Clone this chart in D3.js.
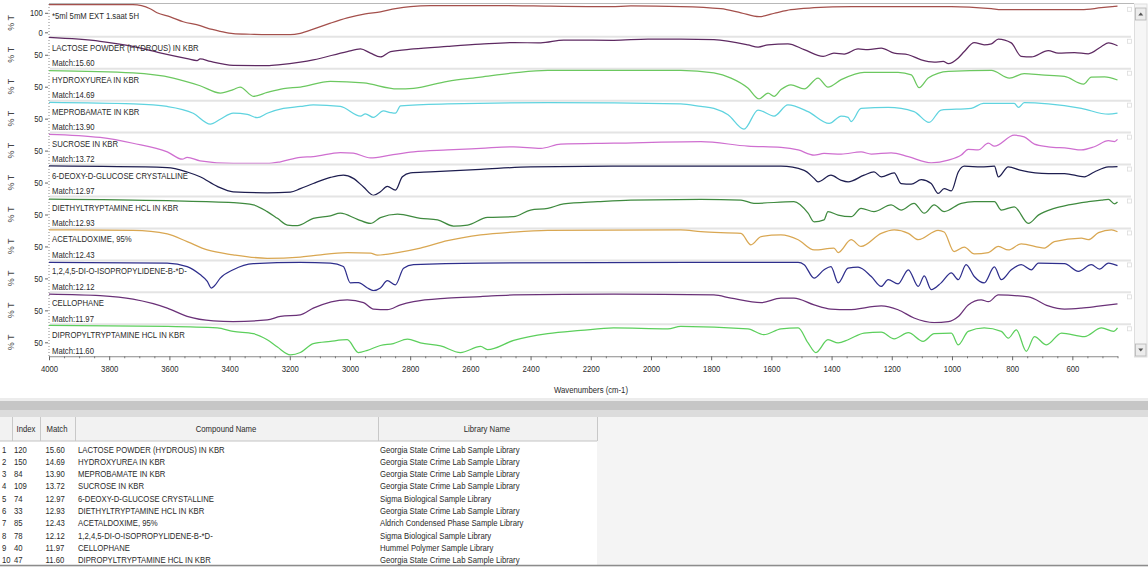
<!DOCTYPE html>
<html><head><meta charset="utf-8">
<script src="https://cdn.jsdelivr.net/npm/d3@7"></script>
<style>
html,body{margin:0;padding:0;background:#fff;overflow:hidden;}
svg{display:block;font-family:"Liberation Sans",Arial,sans-serif;}
</style></head><body>
<svg id="chart" width="1148" height="567"></svg>
<script>
// ---- search result data ----
const queryTitle = "*5ml 5mM EXT 1.saat 5H";
const compoundNames = [
  "LACTOSE POWDER (HYDROUS) IN KBR",
  "HYDROXYUREA IN KBR",
  "MEPROBAMATE IN KBR",
  "SUCROSE IN KBR",
  "6-DEOXY-D-GLUCOSE CRYSTALLINE",
  "DIETHYLTRYPTAMINE HCL IN KBR",
  "ACETALDOXIME, 95%",
  "1,2,4,5-DI-O-ISOPROPYLIDENE-B-*D-",
  "CELLOPHANE",
  "DIPROPYLTRYPTAMINE HCL IN KBR"
];
const matchScores = [15.60, 14.69, 13.90, 13.72, 12.97, 12.93, 12.43, 12.12, 11.97, 11.60];
const libraryIndex = [120, 150, 84, 109, 74, 33, 85, 78, 40, 47];
const libraryNames = [
  "Georgia State Crime Lab Sample Library",
  "Georgia State Crime Lab Sample Library",
  "Georgia State Crime Lab Sample Library",
  "Georgia State Crime Lab Sample Library",
  "Sigma Biological Sample Library",
  "Georgia State Crime Lab Sample Library",
  "Aldrich Condensed Phase Sample Library",
  "Sigma Biological Sample Library",
  "Hummel Polymer Sample Library",
  "Georgia State Crime Lab Sample Library"
];
const tableHeaders = ["Index", "Match", "Compound Name", "Library Name"];
const xTickValues = [4000, 3800, 3600, 3400, 3200, 3000, 2800, 2600, 2400, 2200, 2000, 1800, 1600, 1400, 1200, 1000, 800, 600];
const xAxisTitle = "Wavenumbers (cm-1)";
const yAxisTitle = "% T";

// spectra: [wavenumber cm-1, %T]
const querySpectrum = [[4000,142],[3721,142],[3664,121],[3641,100],[3597,79],[3554,54],[3498,34],[3474,21],[3431,5],[3388,-7],[3331,-10],[3275,-12],[3198,-12],[3165,-5],[3122,16],[3065,47],[3009,74],[2949,95],[2899,105],[2849,121],[2799,132],[2733,137],[2500,137],[2390,135],[2210,132],[2133,132],[2067,135],[1901,132],[1768,121],[1701,100],[1641,80],[1585,100],[1535,116],[1458,126],[1335,132],[1002,132],[869,121],[836,116],[703,116],[570,116],[504,126],[450,134]];
const specLactose = [[4000,104],[3830,92],[3721,76],[3631,56],[3541,38],[3508,32],[3498,37],[3464,29],[3388,17],[3275,16],[3231,19],[3165,27],[3122,34],[3009,60],[2965,68],[2932,55],[2899,43],[2865,60],[2789,68],[2676,76],[2566,83],[2456,88],[2366,87],[2290,96],[2124,95],[2010,99],[1901,99],[1791,97],[1678,81],[1644,74],[1611,81],[1545,84],[1491,66],[1428,45],[1392,55],[1358,52],[1312,68],[1279,66],[1235,71],[1192,55],[1145,50],[1102,34],[1059,27],[1029,29],[1012,22],[979,40],[959,60],[926,88],[893,81],[869,84],[846,99],[803,87],[770,45],[736,43],[680,63],[647,55],[593,57],[547,53],[503,76],[480,87],[450,78]];
const specHydroxyurea = [[4000,100],[3721,93],[3587,77],[3498,53],[3431,30],[3388,41],[3365,49],[3321,20],[3275,32],[3221,44],[3165,49],[3065,67],[2955,62],[2842,43],[2789,45],[2676,67],[2566,80],[2456,93],[2343,101],[1901,101],[1791,93],[1734,77],[1678,46],[1641,12],[1611,30],[1591,20],[1568,41],[1535,56],[1491,43],[1445,77],[1412,49],[1368,72],[1292,95],[1179,95],[1135,87],[1109,47],[1079,77],[1012,98],[869,101],[809,77],[760,91],[703,87],[626,82],[563,58],[537,80],[493,81],[450,71]];
const specMeprobamate = [[4000,101],[3721,96],[3607,88],[3521,67],[3464,33],[3431,48],[3388,67],[3341,63],[3308,53],[3275,67],[3221,82],[3165,88],[3122,93],[3032,88],[2965,58],[2949,65],[2922,54],[2889,74],[2866,69],[2849,67],[2832,90],[2676,96],[2343,100],[1901,96],[1834,88],[1791,82],[1744,62],[1691,17],[1644,77],[1591,58],[1545,93],[1478,72],[1408,35],[1368,58],[1345,54],[1335,41],[1302,82],[1212,85],[1126,72],[1076,38],[1036,77],[936,82],[896,98],[793,98],[779,85],[760,100],[680,96],[570,82],[480,64],[450,67]];
const specSucrose = [[4000,101],[3830,91],[3721,73],[3607,46],[3557,23],[3541,29],[3498,18],[3388,10],[3275,10],[3231,15],[3165,29],[3122,31],[3032,44],[2989,42],[2932,27],[2866,36],[2789,46],[2676,52],[2566,57],[2456,62],[2366,57],[2300,70],[2124,73],[1834,78],[1678,64],[1568,60],[1511,52],[1458,36],[1425,41],[1368,39],[1302,46],[1268,39],[1202,43],[1145,31],[1069,12],[1012,20],[969,36],[946,54],[913,52],[879,73],[859,64],[793,98],[760,93],[726,70],[680,62],[613,57],[570,52],[527,62],[480,81],[460,78],[450,85]];
const specDeoxyGlucose = [[4000,102],[3607,97],[3541,83],[3498,68],[3441,38],[3388,21],[3275,18],[3198,20],[3165,31],[3122,47],[3065,66],[3022,73],[2989,63],[2955,36],[2922,10],[2899,21],[2876,38],[2849,26],[2826,68],[2799,80],[2733,83],[2566,91],[2400,99],[2124,101],[1568,101],[1491,88],[1458,63],[1445,52],[1402,73],[1368,57],[1345,52],[1292,73],[1259,83],[1235,68],[1192,80],[1169,47],[1135,45],[1102,59],[1069,47],[1046,16],[1026,31],[1002,24],[979,83],[959,101],[903,99],[859,101],[846,68],[813,99],[770,88],[680,78],[626,78],[560,68],[527,83],[480,99],[450,100]];
const specDiethyltryptamine = [[4000,98],[3607,93],[3388,87],[3321,80],[3275,59],[3241,38],[3208,17],[3175,15],[3122,38],[3065,46],[3032,54],[2975,35],[2932,22],[2899,40],[2842,51],[2766,38],[2709,33],[2656,14],[2609,17],[2543,41],[2456,43],[2400,64],[2343,69],[2290,83],[2177,90],[2067,95],[1834,97],[1701,95],[1658,85],[1525,90],[1478,54],[1458,27],[1425,33],[1412,59],[1378,48],[1335,43],[1302,69],[1259,59],[1202,80],[1169,64],[1126,85],[1092,54],[1059,80],[1026,59],[969,85],[926,90],[859,90],[836,64],[793,74],[746,22],[713,48],[660,69],[613,80],[547,90],[503,95],[480,97],[460,83],[450,89]];
const specAcetaldoxime = [[4000,102],[3721,100],[3607,89],[3541,65],[3474,39],[3388,24],[3275,13],[3165,17],[3122,21],[3009,31],[2932,29],[2909,23],[2842,31],[2766,45],[2676,68],[2566,86],[2456,95],[2343,100],[1901,102],[1834,96],[1701,91],[1668,55],[1634,81],[1568,86],[1511,71],[1458,39],[1392,45],[1378,31],[1335,71],[1302,50],[1235,91],[1192,102],[1145,91],[1112,71],[1046,100],[1026,95],[993,34],[959,48],[926,27],[879,31],[846,50],[813,39],[770,58],[693,45],[660,65],[570,76],[547,71],[513,93],[470,102],[450,96]];
const specIsopropylidene = [[4000,100],[3607,98],[3541,87],[3498,62],[3474,41],[3461,20],[3451,26],[3431,51],[3388,77],[3321,96],[3165,100],[3065,98],[3022,87],[2999,36],[2972,37],[2942,20],[2922,12],[2899,20],[2876,43],[2849,30],[2822,82],[2789,93],[2566,98],[1511,100],[1491,93],[1458,51],[1425,77],[1402,87],[1378,36],[1345,82],[1312,85],[1268,56],[1235,25],[1212,46],[1179,33],[1145,77],[1112,25],[1092,58],[1069,15],[1036,36],[1002,67],[979,46],[953,93],[926,56],[893,36],[859,86],[836,46],[803,77],[770,93],[736,77],[713,98],[626,96],[580,72],[537,93],[510,79],[480,98],[450,90]];
const specCellophane = [[4000,101],[3830,96],[3721,85],[3607,57],[3541,31],[3454,17],[3388,15],[3275,20],[3231,31],[3165,36],[3122,57],[3009,83],[2955,74],[2922,54],[2876,52],[2832,67],[2789,77],[2676,88],[2566,93],[2456,98],[2124,101],[1791,98],[1734,88],[1634,74],[1568,88],[1525,88],[1458,67],[1402,54],[1345,52],[1235,64],[1179,52],[1126,26],[1059,12],[1012,15],[979,31],[946,67],[903,83],[879,77],[846,98],[746,92],[680,64],[626,54],[570,57],[513,63],[450,70]];
const specDipropyltryptamine = [[4000,103],[3607,100],[3441,95],[3388,84],[3321,77],[3275,58],[3241,35],[3198,11],[3165,18],[3122,46],[3065,53],[3009,58],[2972,18],[2942,25],[2899,40],[2856,46],[2809,60],[2766,48],[2699,39],[2633,18],[2566,37],[2543,27],[2456,56],[2343,77],[2233,87],[2124,95],[1944,92],[1901,100],[1678,92],[1625,74],[1568,92],[1511,95],[1478,48],[1452,18],[1412,58],[1378,48],[1345,58],[1292,79],[1235,82],[1192,61],[1145,80],[1096,53],[1059,77],[1002,79],[979,42],[946,84],[893,95],[836,84],[813,63],[786,89],[753,22],[726,68],[686,42],[636,79],[560,68],[503,95],[463,84],[450,95]];

const librarySpectra = [specLactose, specHydroxyurea, specMeprobamate, specSucrose, specDeoxyGlucose,
  specDiethyltryptamine, specAcetaldoxime, specIsopropylidene, specCellophane, specDipropyltryptamine];
const queryColor = "#a4504c";
const seriesColors = ["#5e2a62", "#6cc860", "#5fd3df", "#cf6fd0", "#1e1e50", "#3f8a3f", "#d9a752", "#2e2e8c", "#6a3178", "#5ccf5c"];

// ---- layout ----
const W = 1148, H = 567;
const SX = 0.86;                       // narrow UI font
const plotL = 49, plotR = 1117.5, frameR = 1131;
const svg = d3.select("#chart");
const x = d3.scaleLinear().domain([4000, 450]).range([plotL, plotR]);
const panels = [{title: queryTitle, data: querySpectrum, color: queryColor, query: true}]
  .concat(compoundNames.map((n, i) => ({title: n, match: matchScores[i], data: librarySpectra[i], color: seriesColors[i], query: false})));
const band = d3.scaleBand().domain(d3.range(panels.length)).range([4.8, 356.25]);
const axisY = 356.25;
const textColor = "#2a2a2a";

function txt(g, s, px, py, anchor = "start", size = 9, fill = textColor) {
  return g.append("text")
    .attr("transform", `translate(${px},${py}) scale(${SX},1)`)
    .attr("text-anchor", anchor).attr("font-size", size).attr("fill", fill).text(s);
}

svg.append("rect").attr("width", W).attr("height", H).attr("fill", "#fff");

// plot frame: top border and dotted left axis
svg.append("line").attr("x1", plotL).attr("x2", 1134).attr("y1", 3.5).attr("y2", 3.5).attr("stroke", "#b8b8b8");
svg.append("line").attr("x1", plotL).attr("x2", plotL).attr("y1", 4).attr("y2", axisY)
  .attr("stroke", "#888").attr("stroke-dasharray", "1,2");

const line = d3.line().x(d => x(d[0])).y(d => d[1]).curve(d3.curveMonotoneX);

panels.forEach((p, i) => {
  const t = band(i);
  const y = p.query ? d3.scaleLinear().domain([0, 100]).range([t + 27.5, t + 8])
                    : d3.scaleLinear().domain([0, 100]).range([t + 34, t + 2]);
  const g = svg.append("g");
  if (i > 0) {
    g.append("line").attr("x1", plotL + 1).attr("x2", frameR).attr("y1", t).attr("y2", t)
      .attr("stroke", "#e4e4e4").attr("stroke-width", 2);
  }
  // small legend box on the right
  g.append("rect").attr("x", 1127.5).attr("y", t + 2.5).attr("width", 4).attr("height", 4)
    .attr("fill", "#fff").attr("stroke", "#dcdcdc").attr("stroke-width", 0.8);

  g.append("path").datum(p.data.map(d => [d[0], y(d[1])]))
    .attr("d", line).attr("fill", "none").attr("stroke", p.color).attr("stroke-width", 1.25);

  // y axis ticks
  const ya = g.append("g").attr("transform", `translate(${plotL - 1},0)`)
    .call(d3.axisLeft(y).tickValues(p.query ? [0, 100] : [50]).tickSize(3).tickPadding(3));
  ya.select(".domain").remove();
  ya.selectAll("line").attr("stroke", "#666");
  ya.selectAll("text").attr("font-size", 9).attr("fill", textColor)
    .attr("font-family", "Liberation Sans, Arial, sans-serif")
    .attr("transform", `scale(${SX},1)`);

  // %T label
  g.append("text").attr("transform", `translate(14,${t + 18}) rotate(-90)`)
    .attr("text-anchor", "middle").attr("font-size", 9).attr("fill", "#444").text(yAxisTitle);

  txt(g, p.title, 52, t + 14);
  if (!p.query) txt(g, "Match:" + p.match.toFixed(2), 52, t + 29.5);
});

// x axis with minor ticks
const xa = svg.append("g").attr("transform", `translate(0,${axisY})`)
  .call(d3.axisBottom(x).tickValues(xTickValues).tickFormat(d3.format("d"))
    .tickSize(4).tickSizeOuter(0).tickPadding(5));
xa.select(".domain").attr("stroke", "#8a8a8a");
xa.selectAll(".tick line").attr("stroke", "#666");
xa.selectAll("text").attr("font-size", 9).attr("fill", textColor)
  .attr("font-family", "Liberation Sans, Arial, sans-serif").attr("transform", `scale(${SX},1)`);
const minorTicks = d3.range(4000, 449, -50).filter(v => !xTickValues.includes(v));
const xm = svg.append("g").attr("transform", `translate(0,${axisY})`)
  .call(d3.axisBottom(x).tickValues(minorTicks).tickSize(2).tickFormat(""));
xm.select(".domain").remove();
xm.selectAll("line").attr("stroke", "#777");
txt(svg, xAxisTitle, 591, 393, "middle");

// scrollbar
svg.append("rect").attr("x", 1134.5).attr("y", 4).attr("width", 12.5).attr("height", 353)
  .attr("fill", "#f6f6f6").attr("stroke", "#dedede");
[[8, true], [344, false]].forEach(([by, up]) => {
  svg.append("rect").attr("x", 1135.5).attr("y", by).attr("width", 10.5).attr("height", 12)
    .attr("fill", "#ececec").attr("stroke", "#b4b4b4").attr("stroke-width", 0.8);
  const cx = 1140.75, cy = by + 6;
  svg.append("path").attr("d", up ? `M${cx - 2.5},${cy + 1.5}L${cx + 2.5},${cy + 1.5}L${cx},${cy - 1.5}Z`
                                  : `M${cx - 2.5},${cy - 1.5}L${cx + 2.5},${cy - 1.5}L${cx},${cy + 1.5}Z`)
    .attr("fill", "#555");
});

// splitter between chart and table
svg.append("rect").attr("x", 0).attr("y", 398).attr("width", W).attr("height", 3).attr("fill", "#ececec");
svg.append("rect").attr("x", 0).attr("y", 401).attr("width", W).attr("height", 9).attr("fill", "#c6c6c6");
svg.append("rect").attr("x", 0).attr("y", 410).attr("width", W).attr("height", 7).attr("fill", "#dcdcdc");

// results table
const tb = svg.append("g");
tb.append("rect").attr("x", 0).attr("y", 417).attr("width", W).attr("height", 150).attr("fill", "#f4f4f4");
tb.append("rect").attr("x", 0).attr("y", 417).attr("width", 597).attr("height", 148).attr("fill", "#fff");
tb.append("rect").attr("x", 0).attr("y", 417).attr("width", 597).attr("height", 24).attr("fill", "#f2f2f2");
tb.append("line").attr("x1", 0).attr("x2", 597).attr("y1", 441).attr("y2", 441).attr("stroke", "#c4c4c4");
[12, 40, 75, 378, 597].forEach(cx => {
  tb.append("line").attr("x1", cx + 0.5).attr("x2", cx + 0.5).attr("y1", 417).attr("y2", 441).attr("stroke", "#c8c8c8");
});
const headerX = [26, 57, 226, 487];
tableHeaders.forEach((h, i) => txt(tb, h, headerX[i], 432, "middle"));
compoundNames.forEach((n, k) => {
  const by = 452.5 + k * 12.3;
  txt(tb, String(k + 1), 2, by);
  txt(tb, String(libraryIndex[k]), 14, by);
  txt(tb, matchScores[k].toFixed(2), 45.5, by);
  txt(tb, n, 78, by);
  txt(tb, libraryNames[k], 380, by);
});
tb.append("line").attr("x1", 0).attr("x2", W).attr("y1", 565.5).attr("y2", 565.5).attr("stroke", "#8c8c8c").attr("stroke-width", 1.5);
</script>
</body></html>
